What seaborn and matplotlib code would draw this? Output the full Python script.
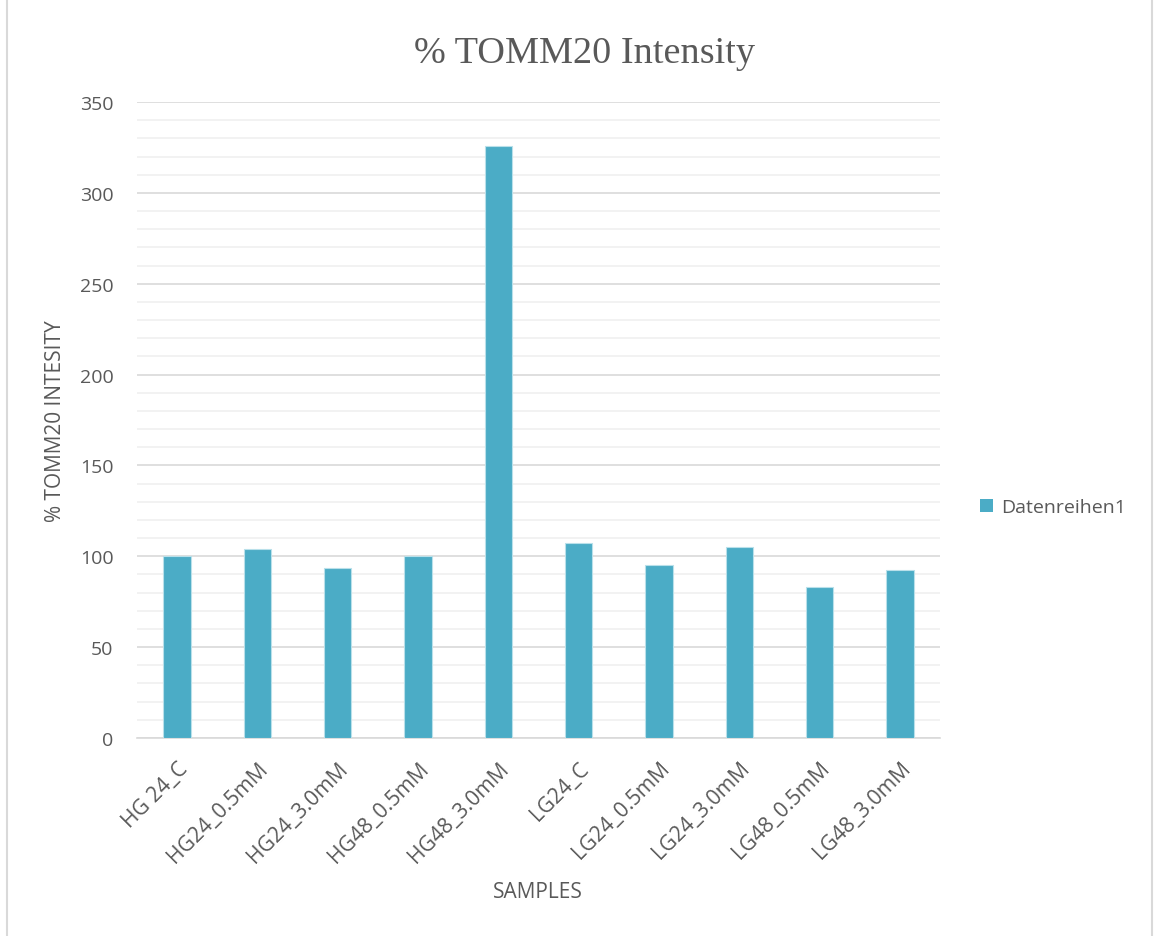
import matplotlib
matplotlib.use("Agg")
import matplotlib.pyplot as plt
import seaborn as sns
import pandas as pd
from matplotlib.lines import Line2D
from matplotlib.patches import Patch
from matplotlib.ticker import MultipleLocator

samples = ["HG 24_C", "HG24_0.5mM", "HG24_3.0mM", "HG48_0.5mM", "HG48_3.0mM",
           "LG24_C", "LG24_0.5mM", "LG24_3.0mM", "LG48_0.5mM", "LG48_3.0mM"]
intensity = [100.0, 103.9, 93.8, 100.4, 325.6, 107.2, 95.0, 105.3, 83.3, 92.5]
series_name = "Datenreihen1"

df = pd.DataFrame({"sample": samples, "intensity": intensity})

sns.set_theme(style="white")
plt.rcParams["font.family"] = ["Open Sans", "DejaVu Sans"]

text_color = "#595959"
bar_color = "#4BACC6"

W, H = 1155, 937
fig = plt.figure(figsize=(W / 100, H / 100), dpi=100)
ax = fig.add_axes([137 / W, 1 - 739 / H, (940 - 137) / W, (739 - 103) / H])

sns.barplot(data=df, x="sample", y="intensity", color=bar_color, saturation=1,
            width=0.34, edgecolor="#b9e0ea", linewidth=0.8, ax=ax, zorder=3)

ax.set_ylim(0, 350)
ax.set_xlim(-0.5, len(samples) - 0.5)
ax.yaxis.set_major_locator(MultipleLocator(50))
ax.yaxis.set_minor_locator(MultipleLocator(10))
ax.grid(which="major", axis="y", color="#d9d9d9", linewidth=1.2, zorder=0)
ax.grid(which="minor", axis="y", color="#f0f0f0", linewidth=1.2, zorder=0)
ax.grid(axis="x", visible=False)
for side in ["top", "right", "left"]:
    ax.spines[side].set_visible(False)
ax.spines["bottom"].set_color("#d9d9d9")
ax.spines["bottom"].set_linewidth(1.2)

ax.tick_params(axis="y", which="both", length=0, labelsize=14, labelcolor=text_color, pad=17)
ax.tick_params(axis="x", length=0, labelsize=15.2, labelcolor=text_color, pad=14)
for lbl in ax.get_xticklabels():
    lbl.set_rotation(45)
    lbl.set_ha("right")
    lbl.set_rotation_mode("anchor")

ax.set_xlabel("SAMPLES", fontsize=15, color=text_color)
ax.set_ylabel("% TOMM20 INTESITY", fontsize=15, color=text_color)
ax.xaxis.set_label_coords(538 / W, 1 - 882 / H, transform=fig.transFigure)
ax.yaxis.set_label_coords(66 / W, 1 - 421 / H, transform=fig.transFigure)

fig.text(584 / W, 1 - 63 / H, "% TOMM20 Intensity", ha="center", va="baseline",
         fontsize=27.5, color=text_color, family=["Liberation Serif", "DejaVu Serif"])

ax.legend(handles=[Patch(facecolor=bar_color, edgecolor="none", label=series_name)],
          loc="center left", bbox_to_anchor=(962 / W, 1 - 508 / H),
          bbox_transform=fig.transFigure, frameon=False, fontsize=14,
          labelcolor=text_color, handlelength=0.68, handleheight=0.68, handletextpad=0.45)

# outer chart border (left and right edges)
for xb in (7, 1152):
    fig.add_artist(Line2D([xb / W, xb / W], [0, 1], transform=fig.transFigure,
                          color="#d9d9d9", linewidth=1.5))

fig.savefig("out.png", dpi=100)
